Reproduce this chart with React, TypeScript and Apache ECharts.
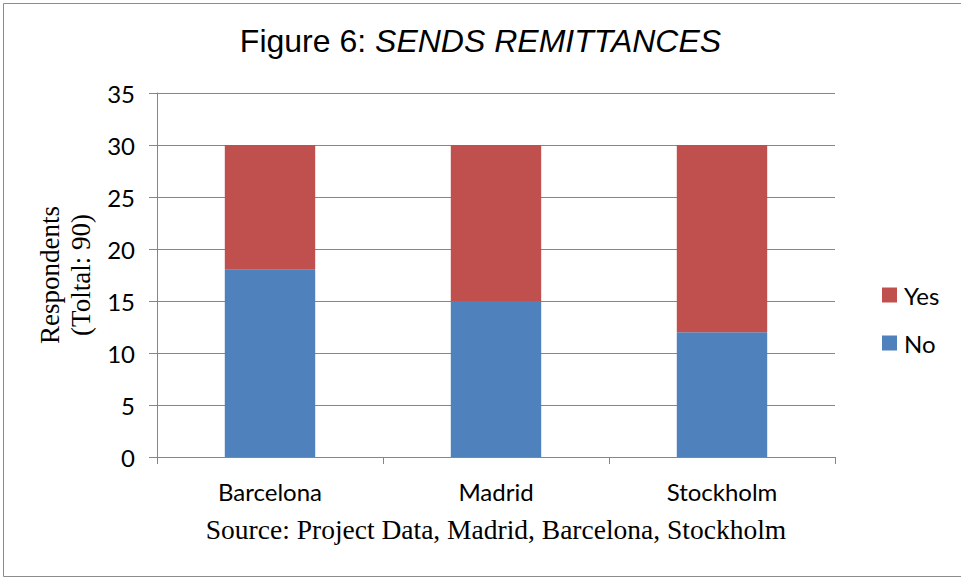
import React, { useEffect, useRef } from "react";
import * as echarts from "echarts";

const categories = ["Barcelona", "Madrid", "Stockholm"];
const noValues = [18, 15, 12];
const yesValues = [12, 15, 18];
const legendOrder = ["Yes", "No"];

export default function App() {
  const ref = useRef<HTMLDivElement>(null);
  useEffect(() => {
    if (!ref.current) return;
    const chart = echarts.init(ref.current, undefined, { renderer: "svg" });
    const sans = "Lato";
    const serif = "Liberation Serif";
    chart.setOption({
      animation: false,
      backgroundColor: "#ffffff",
      title: {
        text: "{a|Figure 6: }{b|SENDS REMITTANCES}",
        left: "center",
        top: 20,
        textStyle: {
          fontWeight: "normal",
          rich: {
            a: { fontFamily: "Liberation Sans", fontSize: 32, color: "#000", fontStyle: "normal", fontWeight: "normal" },
            b: { fontFamily: "Liberation Sans", fontSize: 32, color: "#000", fontStyle: "italic", fontWeight: "normal" },
          },
        },
      },
      graphic: [
        {
          type: "rect",
          shape: { x: 3.5, y: 3.5, width: 980, height: 573 },
          style: { fill: "none", stroke: "#8c8c8c", lineWidth: 1 },
          silent: true,
        },
      ],
      legend: {
        orient: "vertical",
        left: 877,
        top: 277,
        itemWidth: 15,
        itemHeight: 15,
        itemGap: 22,
        data: legendOrder,
        icon: "rect",
        textStyle: { fontFamily: sans, fontSize: 24, color: "#000", lineHeight: 26, padding: [0, 0, 0, 2] },
      },
      grid: { left: 157, right: 126, top: 93, bottom: 121, containLabel: false },
      xAxis: {
        type: "category",
        data: categories,
        name: "Source: Project Data, Madrid, Barcelona, Stockholm",
        nameLocation: "middle",
        nameGap: 58,
        nameTextStyle: { fontFamily: serif, fontSize: 27.5, color: "#000" },
        axisLine: { lineStyle: { color: "#868686", width: 1 } },
        axisTick: { show: true, length: 7, inside: false, lineStyle: { color: "#868686" } },
        axisLabel: { fontFamily: sans, fontSize: 24, color: "#000", margin: 22 },
      },
      yAxis: {
        type: "value",
        min: 0,
        max: 35,
        interval: 5,
        name: "Respondents\n(Toltal: 90)",
        nameLocation: "middle",
        nameRotate: 90,
        nameGap: 59,
        nameTextStyle: { fontFamily: serif, fontSize: 27, color: "#000", lineHeight: 31 },
        axisLine: { show: true, lineStyle: { color: "#868686", width: 1 } },
        axisTick: { show: true, length: 8, lineStyle: { color: "#868686" } },
        splitLine: { show: true, lineStyle: { color: "#868686", width: 1 } },
        axisLabel: { fontFamily: sans, fontSize: 24, color: "#000", margin: 22 },
      },
      series: [
        {
          name: "No",
          type: "bar",
          stack: "total",
          data: noValues,
          barWidth: "40%",
          itemStyle: { color: "#4F81BD" },
        },
        {
          name: "Yes",
          type: "bar",
          stack: "total",
          data: yesValues,
          barWidth: "40%",
          itemStyle: { color: "#C0504D" },
        },
      ],
    });
    return () => chart.dispose();
  }, []);
  return (
    <div
      ref={ref}
      style={{ position: "absolute", left: 0, top: 0, width: 961, height: 578 }}
    />
  );
}
